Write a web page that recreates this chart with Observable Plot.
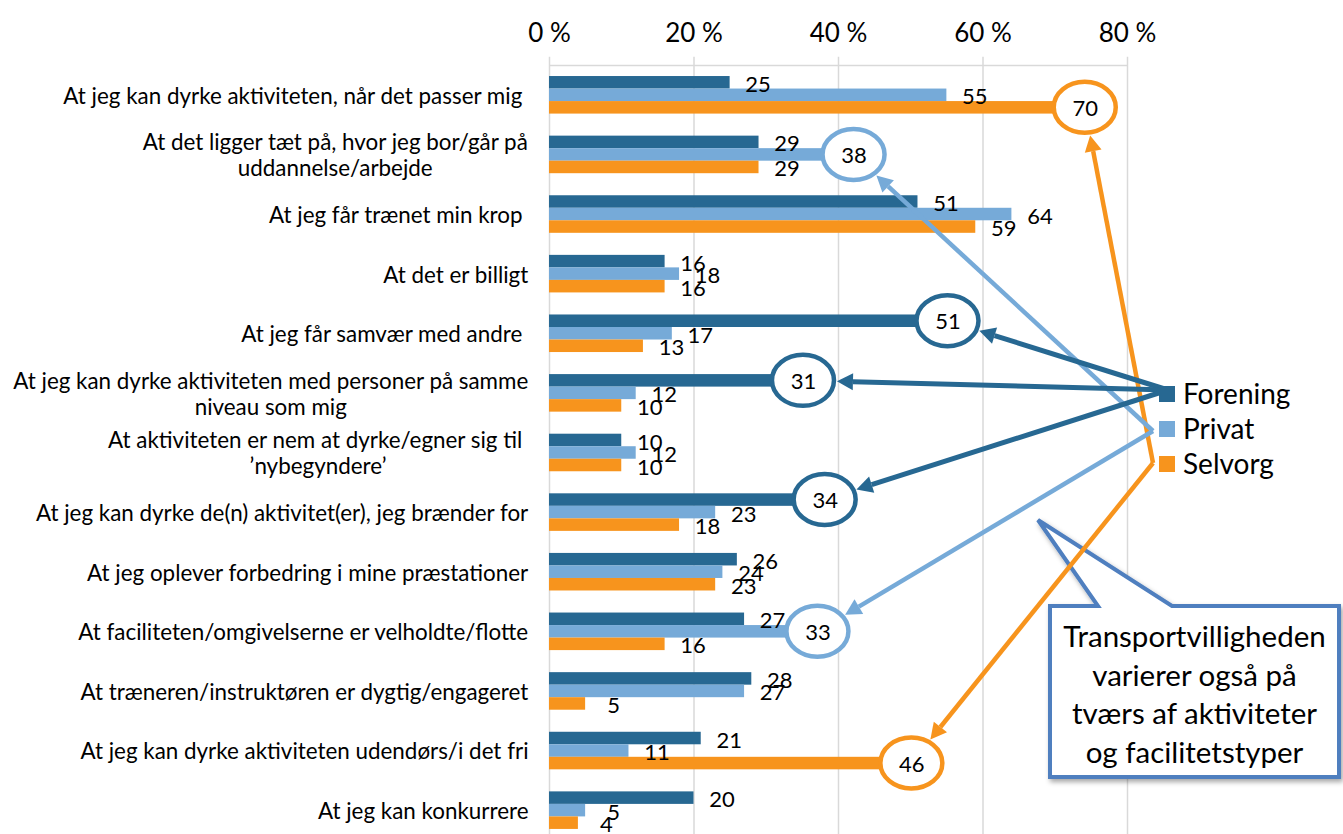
<!DOCTYPE html>
<html><head><meta charset="utf-8">
<script src="https://cdn.jsdelivr.net/npm/d3@7"></script>
<script src="https://cdn.jsdelivr.net/npm/@observablehq/plot@0.6"></script>
<style>
html,body{margin:0;padding:0;background:#fff;}
body{width:1343px;height:834px;overflow:hidden;}
</style>
</head><body><div id="chart"></div>
<script>
// ---------- data ----------
const categories = [
  "At jeg kan dyrke aktiviteten, når det passer mig\u00a0",
  "At det ligger tæt på, hvor jeg bor/går på\nuddannelse/arbejde",
  "At jeg får trænet min krop\u00a0",
  "At det er billigt",
  "At jeg får samvær med andre\u00a0",
  "At jeg kan dyrke aktiviteten med personer på samme\nniveau som mig",
  "At aktiviteten er nem at dyrke/egner sig til\u00a0\n’nybegyndere’",
  "At jeg kan dyrke de(n) aktivitet(er), jeg brænder for",
  "At jeg oplever forbedring i mine præstationer",
  "At faciliteten/omgivelserne er velholdte/flotte",
  "At træneren/instruktøren er dygtig/engageret",
  "At jeg kan dyrke aktiviteten udendørs/i det fri",
  "At jeg kan konkurrere"
];
const seriesNames = ["Forening", "Privat", "Selvorg"];
const forening = [25, 29, 51, 16, 51, 31, 10, 34, 26, 27, 28, 21, 20];
const privat   = [55, 38, 64, 18, 17, 12, 12, 23, 24, 33, 27, 11, 5];
const selvorg  = [70, 29, 59, 16, 13, 10, 10, 18, 23, 16, 5, 46, 4];
const xTicks = [0, 20, 40, 60, 80];
const seriesColors = ["#276892", "#76aad8", "#f7941d"];
// circled values: [series, category index]
const highlighted = [
  ["Selvorg", 0], ["Privat", 1], ["Forening", 4], ["Forening", 5],
  ["Forening", 7], ["Privat", 9], ["Selvorg", 11]
];
const calloutLines = ["Transportvilligheden", "varierer også på", "tværs af aktiviteter", "og facilitetstyper"];

// ---------- layout ----------
const FONT = "Lato, 'Open Sans', sans-serif";
const BW = 0.21;          // bar thickness in category units
const CAT_FS = 22.4, VAL_FS = 22, AXIS_FS = 26, LEG_FS = 28, CALL_FS = 29.5;
const LABEL_GAP = 21;
const LEGEND = {x: 1159, y: [394, 429, 464], size: 16};
const ARROW_START = [[1168, 390], [1153, 431], [1153, 463]];
const CALLOUT = {x: 1050, y: 606, w: 289, h: 171, tip: [1038, 520], base: [1098, 1172]};

const valuesBySeries = [forening, privat, selvorg];
const isHL = (s, ci) => highlighted.some(([hs, hc]) => hs === s && hc === ci);
const rows = categories.flatMap((c, ci) => seriesNames.map((s, si) => ({
  cat: c, ci, series: s, si, value: valuesBySeries[si][ci], hl: isHL(s, ci)
})));
const yPos = d => d.ci + (d.si - 1) * BW;

const ctx = document.createElement("canvas").getContext("2d");
ctx.font = `${CAT_FS}px Lato`;
const catMarks = categories.map((c, ci) => {
  const w = d3.max(c.split("\n"), l => ctx.measureText(l).width);
  return Plot.text([c], {
    y: () => ci, text: d => d, frameAnchor: "left", textAnchor: "middle",
    dx: -(LABEL_GAP + w / 2), lineHeight: 1.17, fontSize: CAT_FS, fill: "#000"
  });
});

function ellipsePos(d, X, Y) {
  return [X(d.value) + 30, Y(yPos(d))];
}
const RX = 31, RY = 25.5;

function ellipsesMark(index, scales) {
  const X = scales.x, Y = scales.y;
  const g = d3.create("svg:g");
  for (const d of rows.filter(r => r.hl)) {
    const [cx, cy] = ellipsePos(d, X, Y);
    g.append("ellipse").attr("cx", cx).attr("cy", cy).attr("rx", RX).attr("ry", RY)
      .attr("fill", "white").attr("stroke", seriesColors[d.si]).attr("stroke-width", 4.5);
  }
  return g.node();
}

function annotationMark(index, scales) {
  const X = scales.x, Y = scales.y;
  const g = d3.create("svg:g");
  const defs = g.append("defs");
  const f = defs.append("filter").attr("id", "shadow").attr("x", "-10%").attr("y", "-10%").attr("width", "130%").attr("height", "130%");
  f.append("feDropShadow").attr("dx", 2).attr("dy", 3).attr("stdDeviation", 2.5).attr("flood-color", "#000").attr("flood-opacity", 0.35);

  // callout
  const c = CALLOUT;
  const path = d3.path();
  path.moveTo(c.x, c.y);
  path.lineTo(c.base[0], c.y);
  path.lineTo(c.tip[0], c.tip[1]);
  path.lineTo(c.base[1], c.y);
  path.lineTo(c.x + c.w, c.y);
  path.lineTo(c.x + c.w, c.y + c.h);
  path.lineTo(c.x, c.y + c.h);
  path.closePath();
  g.append("path").attr("d", path.toString()).attr("fill", "white").attr("stroke", "#4f7fbf")
    .attr("stroke-width", 4).attr("stroke-linejoin", "miter").attr("filter", "url(#shadow)");
  const t = g.append("text").attr("font-family", FONT).attr("font-size", CALL_FS).attr("fill", "#000")
    .attr("text-anchor", "middle");
  calloutLines.forEach((l, i) => {
    t.append("tspan").attr("x", c.x + c.w / 2).attr("y", c.y + 41 + i * 38.5).text(l);
  });

  // arrows
  for (const d of rows.filter(r => r.hl)) {
    const [cx, cy] = ellipsePos(d, X, Y);
    const [sx, sy] = ARROW_START[d.si];
    const dx = sx - cx, dy = sy - cy;
    const tt = 1 / Math.sqrt((dx / (RX + 3)) ** 2 + (dy / (RY + 3)) ** 2);
    const ex = cx + dx * tt, ey = cy + dy * tt;
    const len = Math.hypot(sx - ex, sy - ey);
    const ux = (sx - ex) / len, uy = (sy - ey) / len;
    const HL = 16, HW = 8.5;
    const bx = ex + ux * HL, by = ey + uy * HL;
    const col = seriesColors[d.si];
    g.append("line").attr("x1", sx).attr("y1", sy).attr("x2", bx).attr("y2", by)
      .attr("stroke", col).attr("stroke-width", d.si === 0 ? 5 : 4.5);
    g.append("path").attr("d", `M${ex},${ey}L${bx - uy * HW},${by + ux * HW}L${bx + uy * HW},${by - ux * HW}Z`)
      .attr("fill", col);
  }

  // legend
  seriesNames.forEach((s, i) => {
    const y = LEGEND.y[i];
    g.append("rect").attr("x", LEGEND.x).attr("y", y - LEGEND.size / 2).attr("width", LEGEND.size)
      .attr("height", LEGEND.size).attr("fill", seriesColors[i]);
    g.append("text").attr("x", LEGEND.x + LEGEND.size + 8).attr("y", y).attr("dy", "0.35em")
      .attr("text-anchor", "start")
      .attr("font-family", FONT).attr("font-size", LEG_FS).attr("fill", "#000").text(s);
  });
  return g.node();
}

const plot = Plot.plot({
  width: 1343, height: 834,
  marginLeft: 549, marginRight: 216, marginTop: 65, marginBottom: 0,
  style: {fontFamily: FONT, background: "white", overflow: "visible"},
  x: {domain: [0, 80], axis: null},
  y: {domain: [-0.5, 12.4], reverse: true, axis: null},
  color: {domain: seriesNames, range: seriesColors},
  marks: [
    Plot.ruleX(xTicks, {x: d => d, y1: -0.64, y2: 12.4, stroke: "#d9d9d9", strokeWidth: 1.5}),
    Plot.ruleY([-0.5], {x1: 0, x2: 80, stroke: "#d9d9d9", strokeWidth: 1.5}),
    Plot.text(xTicks, {x: d => d, text: d => `${d} %`, frameAnchor: "top", dy: -42, fontSize: AXIS_FS, fill: "#000"}),
    ...catMarks,
    Plot.rect(rows, {x1: 0, x2: "value", y1: d => yPos(d) - BW / 2, y2: d => yPos(d) + BW / 2, fill: "series"}),
    annotationMark,
    ellipsesMark,
    Plot.text(rows.filter(d => !d.hl), {x: "value", y: yPos, text: d => String(d.value), dx: 28, dy: 2, fontSize: VAL_FS, fill: "#000"}),
    Plot.text(rows.filter(d => d.hl), {x: "value", y: yPos, text: d => String(d.value), dx: 30, dy: 1, fontSize: VAL_FS, fill: "#000"})
  ]
});
document.getElementById("chart").appendChild(plot);
</script>
</body></html>
